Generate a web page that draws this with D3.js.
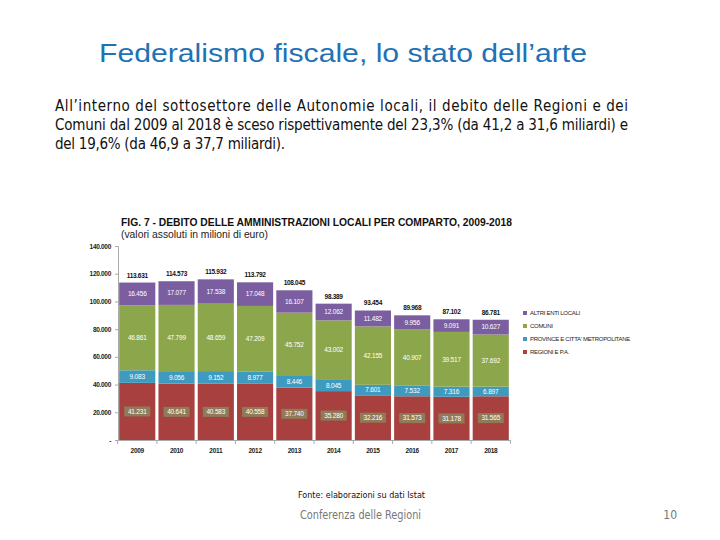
<!DOCTYPE html>
<html>
<head>
<meta charset="utf-8">
<script src="https://cdn.jsdelivr.net/npm/d3@7"></script>
<style>
  body { margin: 0; background: #fff; }
  svg { display: block; }
</style>
</head>
<body>
<div id="chart"></div>
<script>
// dati (milioni di euro)
const years = [2009, 2010, 2011, 2012, 2013, 2014, 2015, 2016, 2017, 2018];
const regioni = [41231, 40641, 40583, 40558, 37740, 35280, 32216, 31573, 31178, 31565];
const province = [9083, 9056, 9152, 8977, 8446, 8045, 7601, 7532, 7316, 6897];
const comuni = [46861, 47799, 48659, 47209, 45752, 43002, 42155, 40907, 39517, 37692];
const altri = [16456, 17077, 17538, 17048, 16107, 12062, 11482, 9956, 9091, 10627];
const seriesNames = ["REGIONI E P.A.", "PROVINCE E CITTA' METROPOLITANE", "COMUNI", "ALTRI ENTI LOCALI"];
const seriesKeys = ["regioni", "province", "comuni", "altri"];
const colors = ["#a8403f", "#3e9bbf", "#8ca74b", "#7b5e9f"];
const yTicks = [0, 20000, 40000, 60000, 80000, 100000, 120000, 140000];

const W = 720, H = 540;
const svg = d3.select("#chart").append("svg")
    .attr("width", W)
    .attr("height", H);

const it = d3.formatLocale({decimal: ",", thousands: ".", grouping: [3], currency: ["", "€"]});
const fmt = it.format(",d");

// header
svg.append("text")
    .attr("x", 99).attr("y", 62)
    .attr("textLength", 488).attr("lengthAdjust", "spacingAndGlyphs")
    .style("font-family", "Liberation Sans, Arial, sans-serif")
    .style("font-size", "25px")
    .style("fill", "#1f72b6")
    .text("Federalismo fiscale, lo stato dell’arte");

const para = [
    {t: "All’interno del sottosettore delle Autonomie locali, il debito delle Regioni e dei", w: 573, y: 111},
    {t: "Comuni dal 2009 al 2018 è sceso rispettivamente del 23,3% (da 41,2 a 31,6 miliardi) e", w: 573, y: 130},
    {t: "del 19,6% (da 46,9 a 37,7 miliardi).", w: 230, y: 149}
];
svg.selectAll("text.para").data(para).enter().append("text")
    .attr("class", "para")
    .attr("x", 55).attr("y", d => d.y)
    .attr("textLength", d => d.w).attr("lengthAdjust", "spacing")
    .style("font-family", "Liberation Sans Narrow, DejaVu Sans Condensed, sans-serif")
    .style("font-size", "15px")
    .style("fill", "#111")
    .text(d => d.t);

// chart titles
svg.append("text")
    .attr("x", 121).attr("y", 226)
    .attr("textLength", 391).attr("lengthAdjust", "spacingAndGlyphs")
    .style("font-family", "Liberation Sans, Arial, sans-serif")
    .style("font-size", "11px").style("font-weight", "bold")
    .style("fill", "#111")
    .text("FIG. 7 - DEBITO DELLE AMMINISTRAZIONI LOCALI PER COMPARTO, 2009-2018");
svg.append("text")
    .attr("x", 121).attr("y", 238)
    .attr("textLength", 147).attr("lengthAdjust", "spacingAndGlyphs")
    .style("font-family", "Liberation Sans, Arial, sans-serif")
    .style("font-size", "10px")
    .style("fill", "#222")
    .text("(valori assoluti in milioni di euro)");

// scales
const x = d3.scaleBand().domain(years).range([118, 510]).paddingInner(0.08).paddingOuter(0.03);
const y = d3.scaleLinear().domain([0, 140000]).range([440, 246]);

const rows = years.map((yr, i) => ({
    year: yr, regioni: regioni[i], province: province[i], comuni: comuni[i], altri: altri[i]
}));
const stack = d3.stack().keys(seriesKeys)(rows);
const totals = rows.map(r => d3.sum(seriesKeys, k => r[k]));

// y axis
const yAxis = svg.append("g")
    .attr("transform", "translate(118,0)")
    .call(d3.axisLeft(y).tickValues(yTicks).tickSize(3).tickPadding(4)
        .tickFormat(d => d === 0 ? "-" : fmt(d)));
yAxis.select(".domain").attr("stroke", "#aaa");
yAxis.selectAll(".tick line").attr("stroke", "#aaa");
yAxis.selectAll(".tick text")
    .style("font-family", "Liberation Sans, Arial, sans-serif")
    .style("font-size", "6.5px").style("font-weight", "bold")
    .style("letter-spacing", "-0.3px")
    .attr("fill", "#222");

// x axis
const xAxis = svg.append("g")
    .attr("transform", "translate(0,440)")
    .call(d3.axisBottom(x).tickSize(0).tickPadding(8));
xAxis.select(".domain").attr("stroke", "#aaa");
xAxis.selectAll(".tick text")
    .style("font-family", "Liberation Sans, Arial, sans-serif")
    .style("font-size", "6.5px").style("font-weight", "bold")
    .style("letter-spacing", "-0.3px")
    .attr("fill", "#222");
const step = x.step();
svg.append("g").selectAll("line")
    .data(d3.range(years.length + 1))
    .enter().append("line")
    .attr("x1", i => x(years[0]) - x.paddingInner() * step / 2 + i * step)
    .attr("x2", i => x(years[0]) - x.paddingInner() * step / 2 + i * step)
    .attr("y1", 440).attr("y2", 444)
    .attr("stroke", "#aaa");

// bars
const layers = svg.append("g").selectAll("g")
    .data(stack).enter().append("g")
    .attr("fill", (d, i) => colors[i]);
layers.selectAll("rect")
    .data(d => d).enter().append("rect")
    .attr("x", d => x(d.data.year))
    .attr("width", x.bandwidth())
    .attr("y", d => y(d[1]))
    .attr("height", d => y(d[0]) - y(d[1]));

// segment labels
const labelFont = "Liberation Sans, Arial, sans-serif";
stack.forEach((layer, li) => {
    const g = svg.append("g");
    layer.forEach(d => {
        const cx = x(d.data.year) + x.bandwidth() / 2;
        const cy = (y(d[0]) + y(d[1])) / 2;
        if (li === 0) {
            g.append("rect")
                .attr("x", cx - 13).attr("y", cy - 5)
                .attr("width", 26).attr("height", 10)
                .attr("fill", "#8f7b58");
        }
        g.append("text")
            .attr("x", cx).attr("y", cy + 2.3)
            .attr("text-anchor", "middle")
            .style("font-family", labelFont)
            .style("font-size", "6.5px")
            .style("letter-spacing", "-0.2px")
            .attr("fill", "#fff")
            .text(fmt(d[1] - d[0]));
    });
});

// totals
svg.append("g").selectAll("text")
    .data(years).enter().append("text")
    .attr("x", d => x(d) + x.bandwidth() / 2)
    .attr("y", (d, i) => y(totals[i]) - 5)
    .attr("text-anchor", "middle")
    .style("font-family", labelFont)
    .style("font-size", "6.5px").style("font-weight", "bold")
    .style("letter-spacing", "-0.3px")
    .attr("fill", "#111")
    .text((d, i) => fmt(totals[i]));

// legend (top to bottom: altri, comuni, province, regioni)
const legendOrder = [3, 2, 1, 0];
const legend = svg.append("g").attr("transform", "translate(523,311)");
legendOrder.forEach((si, k) => {
    const row = legend.append("g").attr("transform", `translate(0,${k * 13})`);
    row.append("rect").attr("width", 4).attr("height", 4).attr("fill", colors[si]);
    row.append("text")
        .attr("x", 7).attr("y", 4.2)
        .style("font-family", labelFont)
        .style("font-size", "6px")
        .style("letter-spacing", "-0.3px")
        .attr("fill", "#222")
        .text(seriesNames[si]);
});

// footer
svg.append("text")
    .attr("x", 298).attr("y", 498)
    .attr("textLength", 127).attr("lengthAdjust", "spacingAndGlyphs")
    .style("font-family", "Liberation Sans Narrow, DejaVu Sans Condensed, sans-serif")
    .style("font-size", "9px")
    .attr("fill", "#111")
    .text("Fonte: elaborazioni su dati Istat");
svg.append("text")
    .attr("x", 300).attr("y", 519)
    .attr("textLength", 121).attr("lengthAdjust", "spacingAndGlyphs")
    .style("font-family", "Liberation Sans Narrow, DejaVu Sans Condensed, sans-serif")
    .style("font-size", "12px")
    .attr("fill", "#777")
    .text("Conferenza delle Regioni");
svg.append("text")
    .attr("x", 677).attr("y", 519)
    .attr("text-anchor", "end")
    .style("font-family", "Liberation Sans Narrow, DejaVu Sans Condensed, sans-serif")
    .style("font-size", "12px")
    .attr("fill", "#777")
    .text("10");
</script>
</body>
</html>
